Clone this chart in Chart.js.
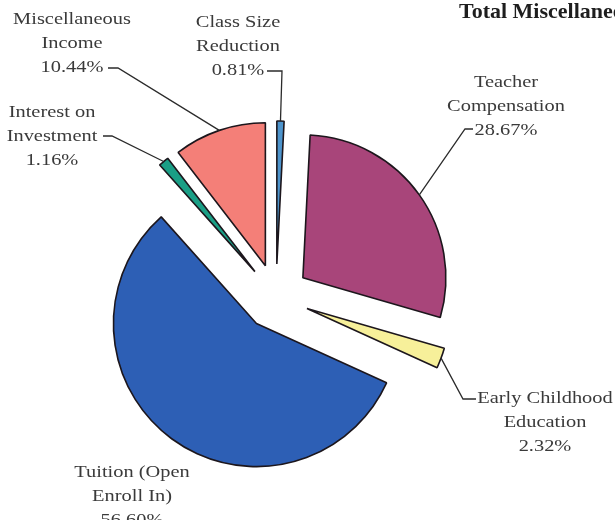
<!DOCTYPE html>
<html lang="en">
<head>
  <meta charset="UTF-8" />
  <title>Total Miscellaneous Revenue</title>
  <script src="https://cdn.jsdelivr.net/npm/chart.js"></script>
  <style>
    body {
      margin: 0;
      background: #fff;
    }
  </style>
</head>
<body>
  <canvas id="pieChart" width="615" height="520"></canvas>
  <script>
    // slice names (already split into lines) and their shares in percent
    const categories = [
      ['Class Size', 'Reduction'],
      ['Teacher', 'Compensation'],
      ['Early Childhood', 'Education'],
      ['Tuition (Open', 'Enroll In)'],
      ['Interest on', 'Investment'],
      ['Miscellaneous', 'Income']
    ];
    const shares = [0.81, 28.67, 2.32, 56.60, 1.16, 10.44];
    const sliceColors = ['#4d94cc', '#a8457a', '#f7f09a', '#2d5fb5', '#1a9f86', '#f47f78'];

    // where each label sits (centre x, first baseline) and its leader elbow
    const labelLayout = [
      { x: 238, y: 27, leader: [[267, 71], [282, 71]] },
      { x: 506, y: 87, leader: [[473, 129], [465, 129]] },
      { x: 545, y: 403, leader: [[476, 399], [463, 399]] },
      { x: 132, y: 477, leader: null },
      { x: 52, y: 117, leader: [[103, 136], [112, 136]] },
      { x: 72, y: 24, leader: [[108, 68], [118, 68]] }
    ];

    const EXPLODE = 33;
    const LINE_H = 24;

    // pull every slice straight out from the centre by EXPLODE px
    const baseArcDraw = Chart.ArcElement.prototype.draw;
    Chart.ArcElement.prototype.draw = function (ctx, area) {
      const mid = (this.startAngle + this.endAngle) / 2;
      ctx.save();
      ctx.translate(Math.cos(mid) * EXPLODE, Math.sin(mid) * EXPLODE);
      baseArcDraw.call(this, ctx, area);
      ctx.restore();
    };

    const labelPlugin = {
      id: 'sliceLabels',
      afterDatasetsDraw(chart) {
        const ctx = chart.ctx;
        const arcs = chart.getDatasetMeta(0).data;
        ctx.save();

        ctx.strokeStyle = '#2b2b2b';
        ctx.lineWidth = 1.3;
        arcs.forEach((arc, i) => {
          const lay = labelLayout[i];
          if (!lay.leader) return;
          const mid = (arc.startAngle + arc.endAngle) / 2;
          const r = arc.outerRadius + EXPLODE;
          ctx.beginPath();
          ctx.moveTo(lay.leader[0][0], lay.leader[0][1]);
          ctx.lineTo(lay.leader[1][0], lay.leader[1][1]);
          ctx.lineTo(arc.x + Math.cos(mid) * r, arc.y + Math.sin(mid) * r);
          ctx.stroke();
        });

        ctx.fillStyle = '#3a3a3a';
        ctx.font = '17px "Liberation Serif"';
        ctx.textAlign = 'center';
        ctx.textBaseline = 'alphabetic';
        arcs.forEach((arc, i) => {
          const lay = labelLayout[i];
          const lines = [...categories[i], shares[i].toFixed(2) + '%'];
          lines.forEach((t, k) => {
            ctx.save();
            ctx.translate(lay.x, lay.y + k * LINE_H);
            ctx.scale(1.2, 1);
            ctx.fillText(t, 0, 0);
            ctx.restore();
          });
        });

        // title runs off the right edge like in the original
        ctx.fillStyle = '#1e1e1e';
        ctx.font = 'bold 22px "Liberation Serif"';
        ctx.textAlign = 'left';
        ctx.fillText('Total Miscellaneous Revenue', 459, 18);
        ctx.restore();
      }
    };

    new Chart(document.getElementById('pieChart'), {
      type: 'pie',
      data: {
        labels: categories,
        datasets: [{
          data: shares,
          backgroundColor: sliceColors,
          borderColor: '#1c161c',
          borderWidth: 1.6
        }]
      },
      options: {
        responsive: false,
        animation: false,
        events: [],
        radius: 143,
        rotation: 0,
        layout: {
          padding: { left: 0, right: 63, top: 74, bottom: 0 }
        },
        plugins: {
          legend: { display: false },
          tooltip: { enabled: false }
        }
      },
      plugins: [labelPlugin]
    });
  </script>
</body>
</html>
